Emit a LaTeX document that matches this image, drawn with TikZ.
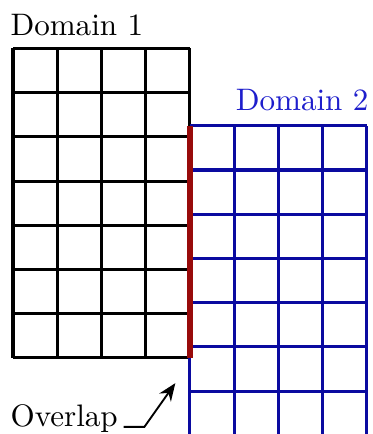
\documentclass[tikz,border=0pt]{standalone}
\usetikzlibrary{positioning,arrows.meta}
\definecolor{gridone}{HTML}{000000}
\definecolor{gridtwo}{HTML}{0A0AA0}
\definecolor{labeltwo}{HTML}{1E1ECC}
\definecolor{overlap}{HTML}{980A0A}

\begin{document}
\begin{tikzpicture}[x=0.5cm,y=0.5cm]
\clip (-0.295,-1.72) rectangle (8.12,8.095);
% domain 1
\foreach \i in {0,...,4} \draw[gridone,line width=1pt] (\i,0) -- (\i,7);
\foreach \j in {0,...,7} \draw[gridone,line width=1pt] (0,\j) -- (4,\j);
\node[anchor=base west,inner sep=0] (d1) at (-0.07,7.3) {Domain 1};
% domain 2
\foreach \i in {4,...,8} \draw[gridtwo,line width=1pt] (\i,-1.75) -- (\i,5.25);
\foreach \j in {-1.75,-0.75,...,5.25} \draw[gridtwo,line width=1pt] (4,\j) -- (8,\j);
\node[anchor=base east,inner sep=0,text=labeltwo] (d2) at (8.05,5.6) {Domain 2};
% overlap
\draw[overlap,line width=1.8pt] (4,0) -- (4,5.25);
\node[anchor=base west,inner sep=0] (ov) at (-0.07,-1.54) {Overlap};
\coordinate (kink) at (2.97,-1.56);
\coordinate (tip) at (3.67,-0.57);
\draw[-{Stealth[length=2mm,width=1.6mm]},semithick] (ov.base east) ++(0.12,-0.02) -- (kink) -- (tip);
\end{tikzpicture}
\end{document}
